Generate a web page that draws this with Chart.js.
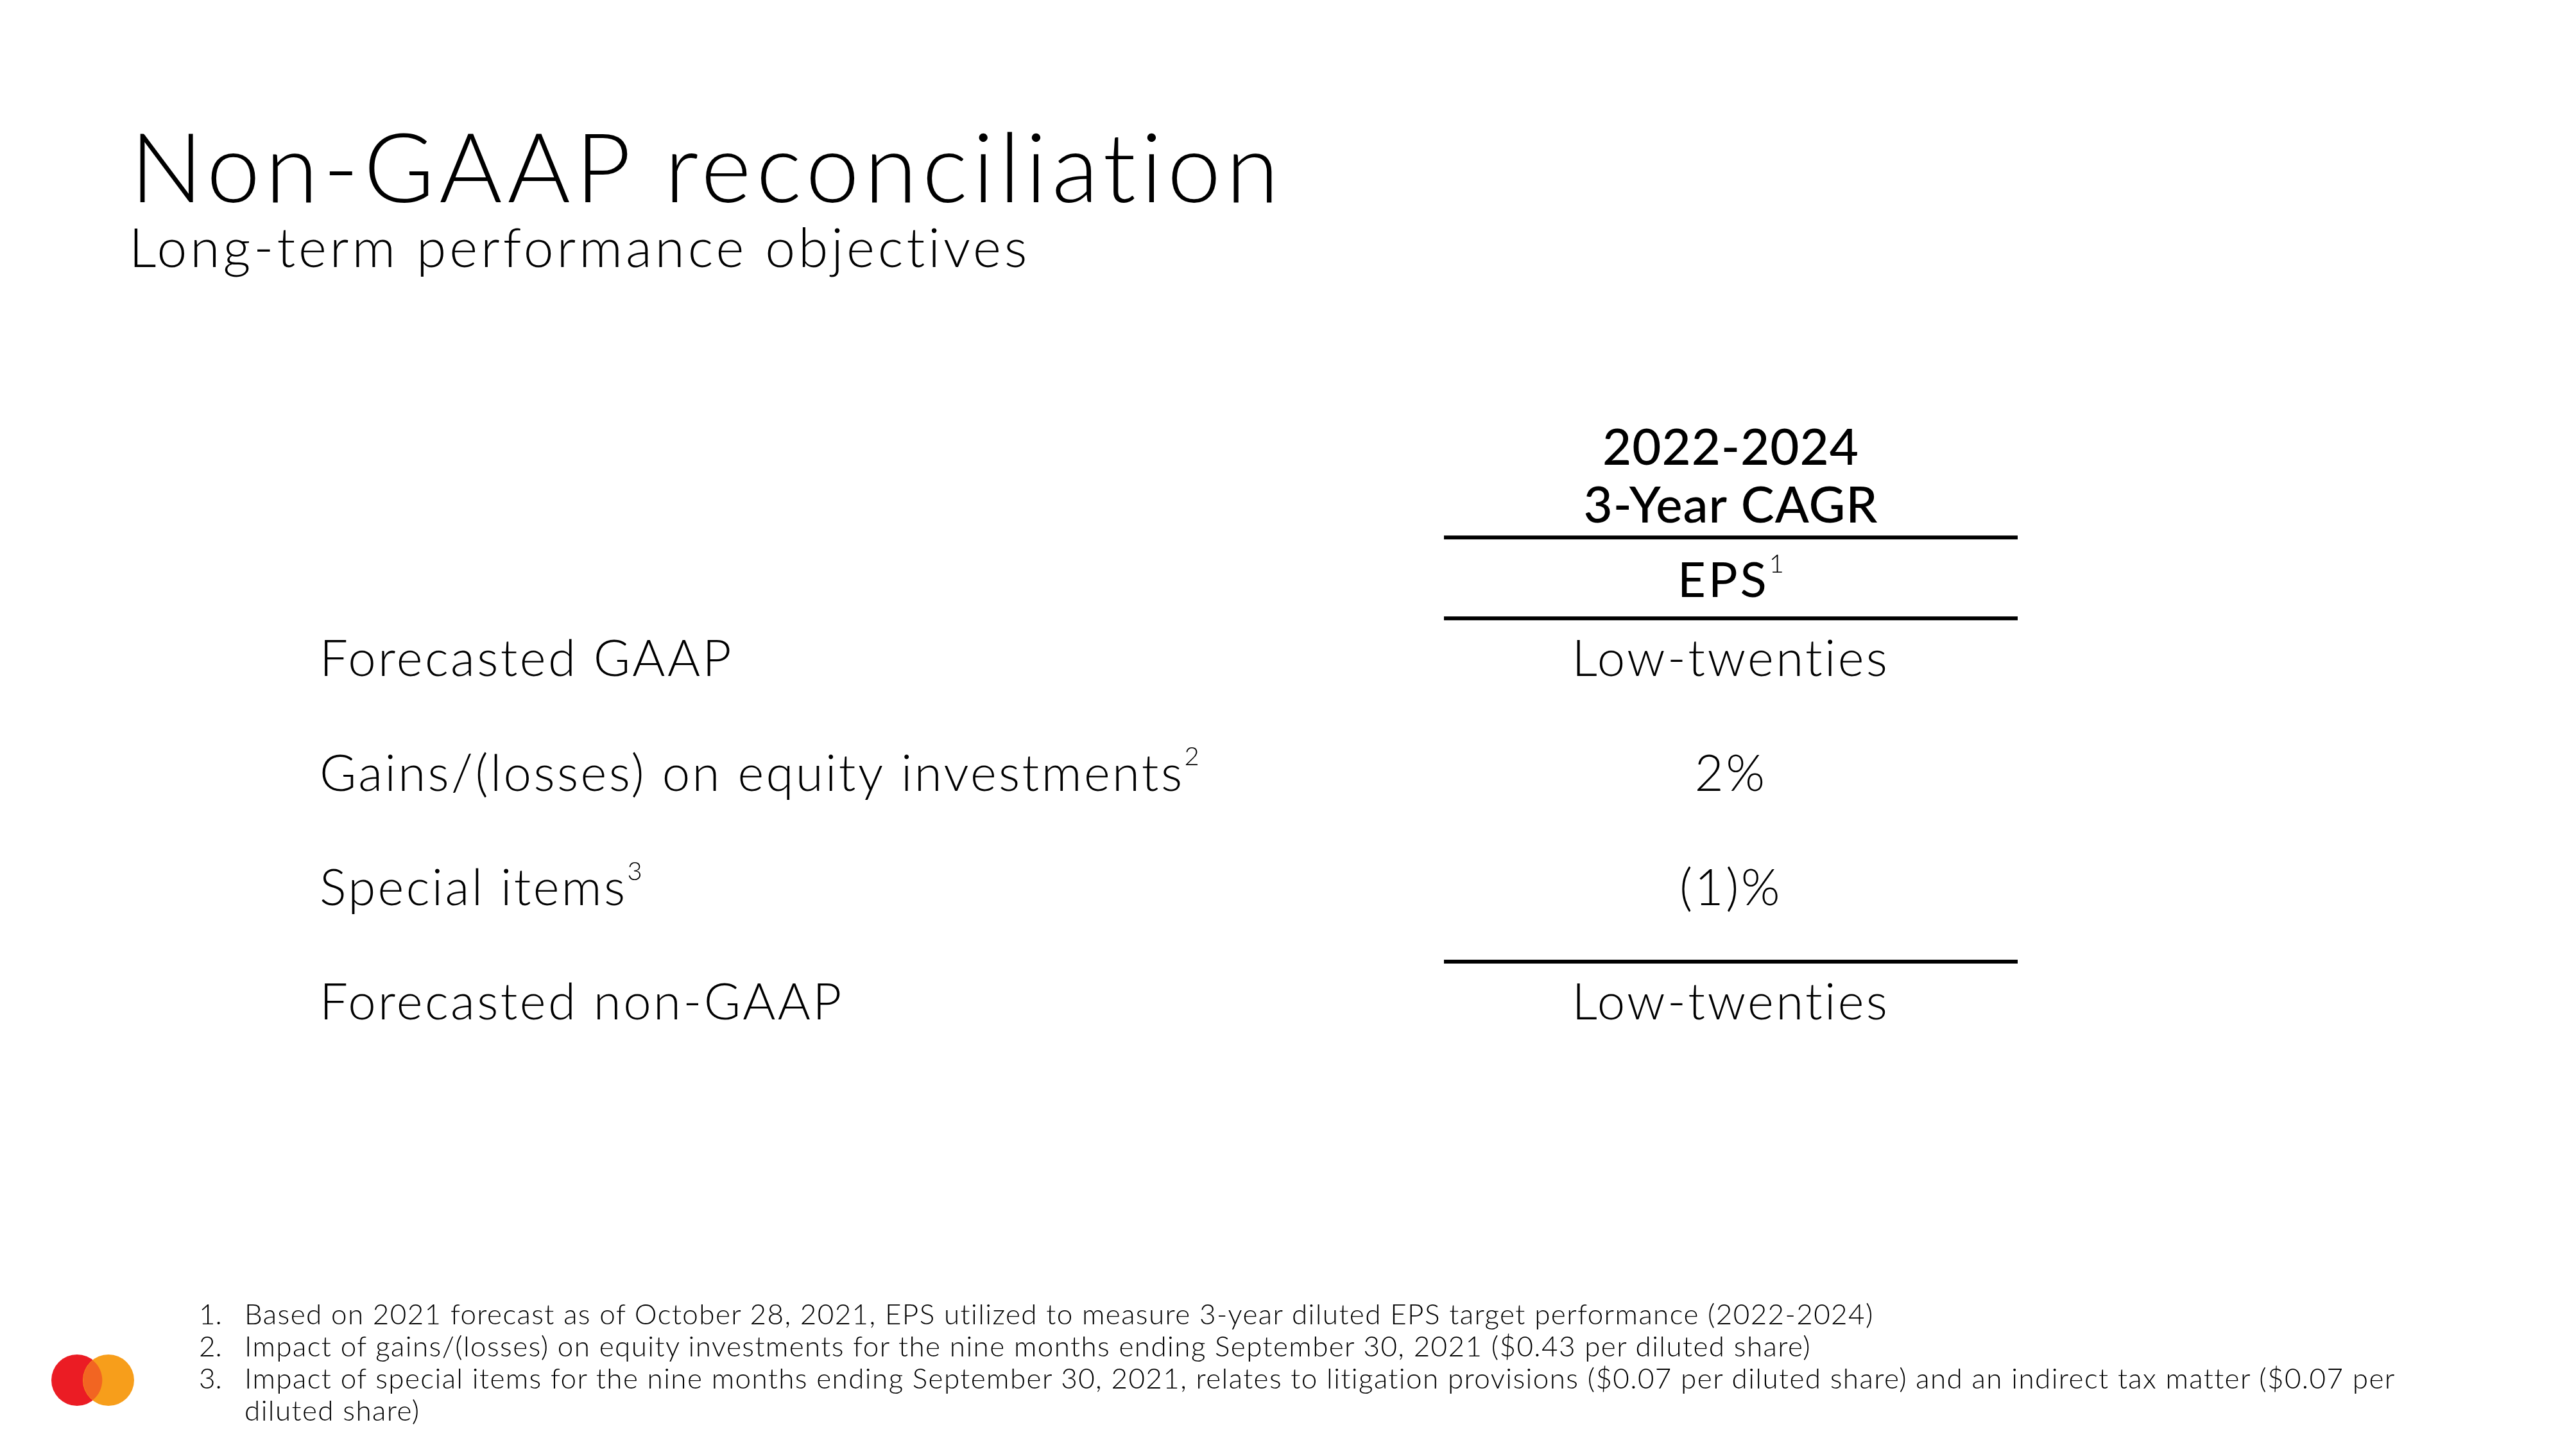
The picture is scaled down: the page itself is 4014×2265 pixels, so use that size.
<!DOCTYPE html>
<html>
<head>
<meta charset="utf-8">
<title>Non-GAAP reconciliation</title>
<script src="https://cdn.jsdelivr.net/npm/chart.js@4.4.1/dist/chart.umd.min.js"></script>
<style>
  html, body { margin: 0; padding: 0; background: #fff; }
  #page { position: relative; width: 4014px; height: 2265px; overflow: hidden;
          font-family: Lato, "Open Sans", sans-serif; color: #000;
          font-variant-ligatures: none; }
  #table { position: absolute; left: 0; top: 0; }
  h1 { position: absolute; left: 203px; top: 182px; margin: 0; letter-spacing: 7.8px;
       font-size: 150px; line-height: 150px; font-weight: 300; white-space: nowrap; }
  h2 { position: absolute; left: 201px; top: 342px; margin: 0; letter-spacing: 5px;
       font-size: 84px; line-height: 84px; font-weight: 300; white-space: nowrap; }
  #notes { position: absolute; left: 310px; top: 2021px; margin: 0; padding: 0;
           list-style: none; font-size: 44px; line-height: 50px; font-weight: 300;
           letter-spacing: 1.4px; }
  #notes li { display: flex; white-space: nowrap; }
  #notes .n { width: 71px; flex: none; letter-spacing: 0; }
  #logo { position: absolute; left: 70px; top: 2100px; }
</style>
</head>
<body>
<div id="page">
  <h1>Non-GAAP reconciliation</h1>
  <h2>Long-term performance objectives</h2>
  <canvas id="table" width="4014" height="2265"></canvas>
  <ol id="notes"></ol>
  <svg id="logo" width="150" height="100" viewBox="70 2100 150 100">
    <circle cx="120" cy="2150" r="40" fill="#eb1c24"/>
    <circle cx="169" cy="2150" r="40" fill="#f79e1b"/>
    <path d="M144.5 2118.9 A40 40 0 0 1 144.5 2181.1 A40 40 0 0 1 144.5 2118.9 Z" fill="#f26522"/>
  </svg>
</div>
<script>
const family = 'Lato, "Open Sans", sans-serif';

// table data
const rowLabels = ["Forecasted GAAP", "Gains/(losses) on equity investments", "Special items", "Forecasted non-GAAP"];
const rowNotes = ["", "2", "3", ""];
const epsValues = ["Low-twenties", "2%", "(1)%", "Low-twenties"];
const ruleAbove = [true, false, false, true];
const columnHeader = ["2022-2024", "3-Year CAGR"];
const columnLabel = "EPS";
const columnNote = "1";

const footnotes = [
  ["1.", "Based on 2021 forecast as of October 28, 2021, EPS utilized to measure 3-year diluted EPS target performance (2022-2024)"],
  ["2.", "Impact of gains/(losses) on equity investments for the nine months ending September 30, 2021 ($0.43 per diluted share)"],
  ["3.", "Impact of special items for the nine months ending September 30, 2021, relates to litigation provisions ($0.07 per diluted share) and an indirect tax matter ($0.07 per", "diluted share)"],
];

const notesEl = document.getElementById("notes");
footnotes.forEach(([num, ...lines]) => {
  lines.forEach((line, k) => {
    const li = document.createElement("li");
    const n = document.createElement("span");
    n.className = "n";
    n.textContent = k === 0 ? num : "";
    const t = document.createElement("span");
    t.textContent = line;
    li.append(n, t);
    notesEl.append(li);
  });
});

const bodySize = 78;
const bodySpacing = "3.4px";
const supFont = `300 40px ${family}`;

// canvas letter spacing for the tick labels
const spacing = {
  id: "spacing",
  beforeDraw(chart) { chart.ctx.letterSpacing = bodySpacing; },
  afterDraw(chart) { chart.ctx.letterSpacing = "0px"; }
};

const tableCells = {
  id: "tableCells",
  afterDatasetsDraw(chart) {
    const { ctx, chartArea, scales: { x, y } } = chart;
    const cx = x.getPixelForValue(0);
    const pts = chart.getDatasetMeta(0).data;
    ctx.save();
    ctx.fillStyle = "#000";
    ctx.strokeStyle = "#000";

    // value cells
    ctx.letterSpacing = bodySpacing;
    ctx.font = `300 ${bodySize}px ${family}`;
    ctx.textAlign = "center";
    ctx.textBaseline = "middle";
    pts.forEach((pt, i) => ctx.fillText(epsValues[i], pt.x, pt.y));

    // footnote marks on row labels
    ctx.textAlign = "left";
    ctx.textBaseline = "alphabetic";
    rowLabels.forEach((label, i) => {
      if (!rowNotes[i]) return;
      ctx.letterSpacing = bodySpacing;
      ctx.font = `300 ${bodySize}px ${family}`;
      const w = ctx.measureText(label).width;
      ctx.letterSpacing = "0px";
      ctx.font = supFont;
      ctx.fillText(rowNotes[i], y.left + w, y.getPixelForValue(i) + 30 - 44);
    });

    // rules
    ctx.lineWidth = 6;
    const rules = [];
    ruleAbove.forEach((on, i) => { if (on) rules.push(y.getPixelForValue(i) - 65); });
    const top = rules[0] - 126;
    rules.push(top);
    rules.forEach(ry => {
      ctx.beginPath();
      ctx.moveTo(chartArea.left, ry);
      ctx.lineTo(chartArea.right, ry);
      ctx.stroke();
    });

    // column header
    ctx.textAlign = "center";
    ctx.letterSpacing = "1px";
    ctx.font = `500 ${bodySize}px ${family}`;
    ctx.fillText(columnHeader[0], cx, top - 113);
    ctx.fillText(columnHeader[1], cx, top - 23);

    // EPS with superscript
    const base = (top + rules[0]) / 2 + 30;
    ctx.textAlign = "left";
    ctx.letterSpacing = "4px";
    ctx.font = `400 76px ${family}`;
    const w = ctx.measureText(columnLabel).width;
    ctx.letterSpacing = "0px";
    ctx.font = supFont;
    const ws = ctx.measureText(columnNote).width;
    const start = cx - (w + ws) / 2;
    ctx.letterSpacing = "4px";
    ctx.font = `400 76px ${family}`;
    ctx.fillText(columnLabel, start, base);
    ctx.letterSpacing = "0px";
    ctx.font = supFont;
    ctx.fillText(columnNote, start + w, base - 38);
    ctx.restore();
  }
};

new Chart(document.getElementById("table"), {
  type: "scatter",
  data: {
    datasets: [{
      data: epsValues.map((v, i) => ({ x: 0, y: rowLabels[i] })),
      pointRadius: 0,
      pointHoverRadius: 0
    }]
  },
  options: {
    responsive: false,
    animation: false,
    events: [],
    layout: { padding: { left: 498, right: 870, top: 939, bottom: 613 } },
    plugins: { legend: { display: false }, tooltip: { enabled: false } },
    scales: {
      x: { type: "linear", min: -1, max: 1, display: false },
      y: {
        type: "category",
        labels: rowLabels,
        offset: true,
        grid: { display: false },
        border: { display: false },
        ticks: {
          autoSkip: false,
          crossAlign: "far",
          padding: 0,
          color: "#000",
          font: { family, size: bodySize, weight: 300 }
        },
        afterFit: s => { s.width = 2250 - 498; }
      }
    }
  },
  plugins: [spacing, tableCells]
});
</script>
</body>
</html>
